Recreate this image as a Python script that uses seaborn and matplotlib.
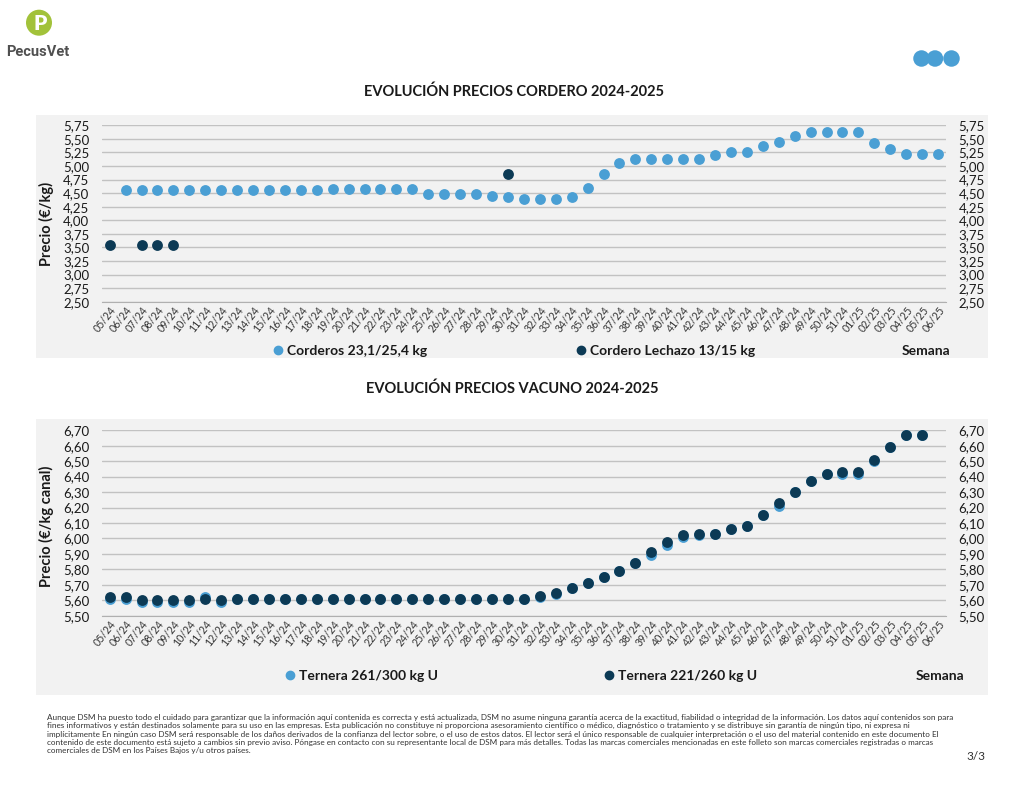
import numpy as np
import pandas as pd
import matplotlib
matplotlib.use("Agg")
import matplotlib.pyplot as plt
import seaborn as sns
from matplotlib.patches import Rectangle, Ellipse
from matplotlib.lines import Line2D
from matplotlib.ticker import FixedLocator, FuncFormatter

nan = np.nan

weeks = ["05/24", "06/24", "07/24", "08/24", "09/24", "10/24", "11/24", "12/24",
         "13/24", "14/24", "15/24", "16/24", "17/24", "18/24", "19/24", "20/24",
         "21/24", "22/24", "23/24", "24/24", "25/24", "26/24", "27/24", "28/24",
         "29/24", "30/24", "31/24", "32/24", "33/24", "34/24", "35/24", "36/24",
         "37/24", "38/24", "39/24", "40/24", "41/24", "42/24", "43/24", "44/24",
         "45/24", "46/24", "47/24", "48/24", "49/24", "50/24", "51/24",
         "01/25", "02/25", "03/25", "04/25", "05/25", "06/25"]

# Cordero chart
corderos = [nan, 4.55, 4.55, 4.55, 4.55, 4.55, 4.55, 4.55,
            4.55, 4.55, 4.55, 4.55, 4.55, 4.55, 4.58, 4.58,
            4.58, 4.58, 4.58, 4.58, 4.48, 4.48, 4.48, 4.48,
            4.45, 4.42, 4.39, 4.39, 4.39, 4.42, 4.60, 4.85,
            5.05, 5.12, 5.12, 5.12, 5.12, 5.12, 5.21, 5.25,
            5.25, 5.37, 5.45, 5.55, 5.62, 5.62, 5.62,
            5.62, 5.43, 5.31, 5.22, 5.22, 5.22]
lechazo = [3.55, nan, 3.55, 3.55, 3.55, nan, nan, nan,
           nan, nan, nan, nan, nan, nan, nan, nan,
           nan, nan, nan, nan, nan, nan, nan, nan,
           nan, 4.85, nan, nan, nan, nan, nan, nan,
           nan, nan, nan, nan, nan, nan, nan, nan,
           nan, nan, nan, nan, nan, nan, nan,
           nan, nan, nan, nan, nan, nan]

# Vacuno chart
ternera_261_300 = [5.61, 5.61, 5.59, 5.59, 5.59, 5.59, 5.62, 5.59,
                   5.61, 5.61, 5.61, 5.61, 5.61, 5.61, 5.61, 5.61,
                   5.61, 5.61, 5.61, 5.61, 5.61, 5.61, 5.61, 5.61,
                   5.61, 5.61, 5.61, 5.62, 5.64, 5.68, 5.71, 5.75,
                   5.79, 5.84, 5.89, 5.96, 6.01, 6.02, 6.03, 6.06,
                   6.08, 6.15, 6.21, 6.30, 6.37, 6.42, 6.42,
                   6.42, 6.50, 6.59, 6.67, 6.67, nan]
ternera_221_260 = [5.62, 5.62, 5.60, 5.60, 5.60, 5.60, 5.61, 5.60,
                   5.61, 5.61, 5.61, 5.61, 5.61, 5.61, 5.61, 5.61,
                   5.61, 5.61, 5.61, 5.61, 5.61, 5.61, 5.61, 5.61,
                   5.61, 5.61, 5.61, 5.63, 5.65, 5.68, 5.71, 5.75,
                   5.79, 5.84, 5.91, 5.98, 6.02, 6.03, 6.03, 6.06,
                   6.08, 6.15, 6.23, 6.30, 6.37, 6.42, 6.43,
                   6.43, 6.51, 6.59, 6.67, 6.67, nan]

lbl_corderos = "Corderos 23,1/25,4 kg"
lbl_lechazo = "Cordero Lechazo 13/15 kg"
lbl_t1 = "Ternera 261/300 kg U"
lbl_t2 = "Ternera 221/260 kg U"

sns.set_style("white")
plt.rcParams["font.family"] = ["Lato", "DejaVu Sans"]

LIGHT = "#4a9fd4"
DARK = "#0c3a55"
PANEL = "#f2f2f2"
GRID = "#c2c2c2"
TXT = "#1a1a1a"
W, H = 1024, 791

fig = plt.figure(figsize=(W / 100, H / 100), dpi=100)
fig.patch.set_facecolor("white")


def fx(px):
    return px / W


def fy(py):
    return 1 - py / H


def rect_axes(x0, y0, x1, y1):
    return [fx(x0), fy(y1), fx(x1) - fx(x0), fy(y0) - fy(y1)]


# panels
for (x0, y0, x1, y1) in [(36, 115, 988, 358), (36, 419, 988, 695)]:
    fig.add_artist(Rectangle((fx(x0), fy(y1)), fx(x1) - fx(x0), fy(y0) - fy(y1),
                             transform=fig.transFigure, facecolor=PANEL,
                             edgecolor="none", zorder=0))

df_top = pd.DataFrame({"Semana": weeks, lbl_corderos: corderos, lbl_lechazo: lechazo})
df_bot = pd.DataFrame({"Semana": weeks, lbl_t1: ternera_261_300, lbl_t2: ternera_221_260})


def style(ax, ymin, ymax, step, ylabel, label_y):
    ax.set_facecolor(PANEL)
    ax.set_ylim(ymin, ymax)
    ticks = np.arange(ymin, ymax + step / 2, step)
    ax.yaxis.set_major_locator(FixedLocator(ticks))
    ax.yaxis.set_major_formatter(FuncFormatter(lambda v, p: f"{v:.2f}".replace(".", ",")))
    ax.grid(axis="y", color=GRID, lw=1)
    ax.grid(axis="x", visible=False)
    ax.set_axisbelow(True)
    for s in ["top", "left", "right"]:
        ax.spines[s].set_visible(False)
    ax.spines["bottom"].set_color("#b0b0b0")
    ax.tick_params(axis="y", length=0, labelsize=9.5, labelcolor=TXT,
                   labelright=True, labelleft=True, pad=9)
    ax.tick_params(axis="x", which="major", length=0, labelsize=7.6, pad=2,
                   labelcolor="#333333")
    n = len(weeks)
    ax.set_xticks(np.arange(-0.5, n, 1), minor=True)
    ax.tick_params(axis="x", which="minor", length=3, color="#b0b0b0", width=0.8)
    for lab in ax.get_xticklabels():
        lab.set_rotation(52)
        lab.set_ha("right")
        lab.set_rotation_mode("anchor")
    ax.set_xlim(-0.5, n - 0.5)
    ax.set_xlabel("")
    ax.set_ylabel(ylabel, fontsize=10.5, fontweight="bold", color=TXT, va="center")
    ax.yaxis.set_label_coords((46 - 101.7) / (946 - 101.7), label_y)


# top chart
ax1 = fig.add_axes(rect_axes(101.7, 125.3, 946, 301.7))
sns.stripplot(data=df_top, x="Semana", y=lbl_corderos, order=weeks, jitter=False,
              color=LIGHT, size=7.8, linewidth=0, ax=ax1, zorder=3)
sns.stripplot(data=df_top, x="Semana", y=lbl_lechazo, order=weeks, jitter=False,
              color=DARK, size=7.8, linewidth=0, ax=ax1, zorder=4)
style(ax1, 2.50, 5.75, 0.25, "Precio (€/kg)", 0.44)

# bottom chart
ax2 = fig.add_axes(rect_axes(101.7, 430.3, 946, 615.7))
sns.stripplot(data=df_bot, x="Semana", y=lbl_t1, order=weeks, jitter=False,
              color=LIGHT, size=7.8, linewidth=0, ax=ax2, zorder=3)
sns.stripplot(data=df_bot, x="Semana", y=lbl_t2, order=weeks, jitter=False,
              color=DARK, size=7.8, linewidth=0, ax=ax2, zorder=4)
style(ax2, 5.50, 6.70, 0.10, "Precio (€/kg canal)", 0.48)

# titles
fig.text(fx(514), fy(92), "EVOLUCIÓN PRECIOS CORDERO 2024-2025", ha="center", va="center",
         fontsize=10.5, fontweight="bold", color=TXT)
fig.text(fx(512), fy(389), "EVOLUCIÓN PRECIOS VACUNO 2024-2025", ha="center", va="center",
         fontsize=10.5, fontweight="bold", color=TXT)


# legends
def legend_entry(label, color, x, y):
    h = Line2D([], [], marker="o", ls="none", color=color, markersize=6)
    lg = fig.legend([h], [label], loc="center left", bbox_to_anchor=(fx(x), fy(y)),
                    frameon=False, handlelength=0.6, handletextpad=0.35, borderpad=0,
                    borderaxespad=0, prop={"weight": "bold", "size": 10})
    for t in lg.get_texts():
        t.set_color(TXT)


legend_entry(lbl_corderos, LIGHT, 274, 351)
legend_entry(lbl_lechazo, DARK, 577, 351)
legend_entry(lbl_t1, LIGHT, 286, 675.5)
legend_entry(lbl_t2, DARK, 605, 675.5)

fig.text(fx(950), fy(351), "Semana", ha="right", va="center", fontsize=10,
         fontweight="bold", color=TXT)
fig.text(fx(964), fy(676), "Semana", ha="right", va="center", fontsize=10,
         fontweight="bold", color=TXT)

# logo
fig.add_artist(Ellipse((fx(39), fy(22.7)), 26 / W, 26 / H, transform=fig.transFigure,
                       facecolor="#a2c23a", edgecolor="none"))
fig.text(fx(40), fy(23), "P", ha="center", va="center", fontsize=15, fontweight="heavy",
         color="white")
fig.text(fx(38), fy(52), "PecusVet", ha="center", va="center", fontsize=10.5,
         fontweight="bold", color="#505050", family=["Roboto", "DejaVu Sans"])

# blue dots top right
for cx in [921.5, 935.0, 951.5]:
    fig.add_artist(Ellipse((fx(cx), fy(58.5)), 16.5 / W, 16.5 / H, transform=fig.transFigure,
                           facecolor="#4a9fd4", edgecolor="none"))

# footer
footer = ("Aunque DSM ha puesto todo el cuidado para garantizar que la información aquí contenida es correcta y está actualizada, DSM no asume ninguna garantía acerca de la exactitud, fiabilidad o integridad de la información. Los datos aquí contenidos son para\n"
          "fines informativos y están destinados solamente para su uso en las empresas. Esta publicación no constituye ni proporciona asesoramiento científico o médico, diagnóstico o tratamiento y se distribuye sin garantía de ningún tipo, ni expresa ni\n"
          "implícitamente En ningún caso DSM será responsable de los daños derivados de la confianza del lector sobre, o el uso de estos datos. El lector será el único responsable de cualquier interpretación o el uso del material contenido en este documento El\n"
          "contenido de este documento está sujeto a cambios sin previo aviso. Póngase en contacto con su representante local de DSM para más detalles. Todas las marcas comerciales mencionadas en este folleto son marcas comerciales registradas o marcas\n"
          "comerciales de DSM en los Países Bajos y/u otros países.")
fig.text(fx(47), fy(714), footer, ha="left", va="top", fontsize=5.9, color="#333333",
         linespacing=1.2)
fig.text(fx(966), fy(757), "3/3", ha="left", va="center", fontsize=8.5, color="#333333")

fig.savefig("out.png", dpi=100, facecolor="white")
